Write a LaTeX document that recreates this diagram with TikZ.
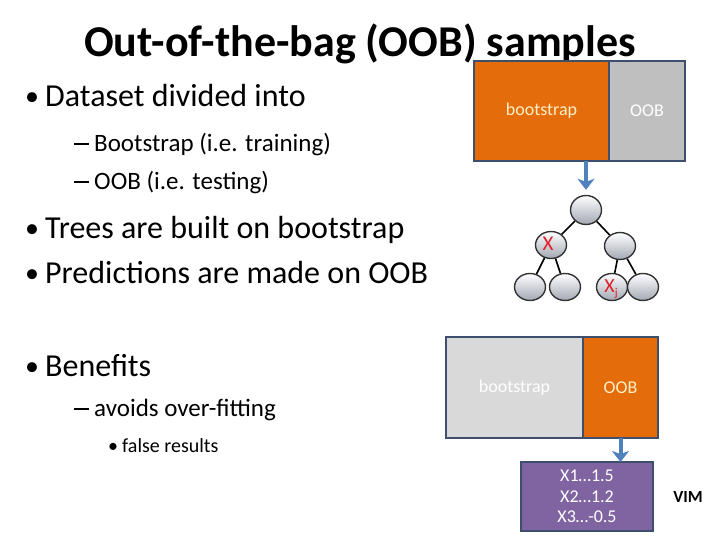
\documentclass[tikz,border=0pt]{standalone}
\usepackage{fontspec}
\setmainfont{Carlito}
\usetikzlibrary{arrows.meta,positioning,shapes.geometric}
\definecolor{oobOrange}{HTML}{E46C0A}
\definecolor{oobGrayA}{HTML}{BFBFBF}
\definecolor{oobGrayB}{HTML}{D9D9D9}
\definecolor{boxEdge}{HTML}{3E4F6D}
\definecolor{vimPurple}{HTML}{8064A2}
\definecolor{flowBlue}{HTML}{4F81BD}
\definecolor{creamText}{HTML}{FFF0C8}
\definecolor{splitRed}{HTML}{E0202A}
\definecolor{leafShade}{HTML}{A3A8B4}
\newcommand{\lvldash}{\makebox[20pt][l]{\rule[6.5pt]{15pt}{2pt}}}
\newcommand{\lvlbul}{\makebox[20pt][l]{\raisebox{1pt}{\fontsize{28}{28}\selectfont\textbullet}}}
\begin{document}
\begin{tikzpicture}[x=1pt,y=-1pt,
    lvlone/.style={anchor=base west, inner sep=0pt, font=\fontsize{32}{38}\selectfont},
    lvltwo/.style={anchor=base west, inner sep=0pt, font=\fontsize{25}{30}\selectfont},
    lvlthree/.style={anchor=base west, inner sep=0pt, font=\fontsize{20}{24}\selectfont},
    part/.style={draw=boxEdge, line width=2.5pt, minimum height=100pt, inner sep=0pt, outer sep=0pt, font=\fontsize{18}{20}\selectfont},
    treenode/.style={ellipse, draw=black!80, line width=1.4pt, top color=white, bottom color=leafShade, minimum width=31pt, minimum height=27pt, inner sep=0pt},
    treeedge/.style={line width=1.6pt},
    flow/.style={-{Stealth[width=17pt,length=11pt,inset=3pt]}, line width=4pt, draw=flowBlue}]
    \useasboundingbox (0,0) rectangle (720,540);

    % title and bullets
    \node[font=\bfseries\fontsize{44}{48}\selectfont] (title) at (360,44) {Out-of-the-bag (OOB) samples};
    \node[lvlone] (bulA) at (25,107) {\lvlbul Dataset divided into};
    \node[lvltwo] (subA) at (74,152) {\lvldash Bootstrap (i.e. training)};
    \node[lvltwo] (subB) at (74,190) {\lvldash OOB (i.e. testing)};
    \node[lvlone] (bulB) at (25,238) {\lvlbul Trees are built on bootstrap};
    \node[lvlone] (bulC) at (25,283) {\lvlbul Predictions are made on OOB};
    \node[lvlone] (bulD) at (25,376) {\lvlbul Benefits};
    \node[lvltwo] (subC) at (74,416) {\lvldash avoids over-fitting};
    \node[lvlthree] (subsub) at (108,452) {\makebox[14pt][l]{\textbullet}false results};

    % data split used for training
    \node[part, fill=oobOrange, text=creamText, minimum width=135pt] (topboot) at (541.5,111) {bootstrap};
    \node[part, fill=oobGrayA, text=white, minimum width=76pt, right=0pt of topboot] (topoob) {OOB};

    % tree
    \node[treenode, minimum height=29pt] (root) at (586,210) {};
    \node[treenode] (lchild) at (551,245) {};
    \node[treenode] (rchild) at (620,246) {};
    \node[treenode] (leafa) at (530,287) {};
    \node[treenode] (leafb) at (565,287) {};
    \node[treenode] (leafc) at (612,287) {};
    \node[treenode] (leafd) at (643,287) {};
    \draw[treeedge] (root) -- (lchild);
    \draw[treeedge] (root) -- (rchild);
    \draw[treeedge] (lchild) -- (leafa);
    \draw[treeedge] (lchild) -- (leafb);
    \draw[treeedge] (rchild) -- (leafc);
    \draw[treeedge] (rchild) -- (leafd);
    \node[text=splitRed, font=\fontsize{21}{22}\selectfont] (xlab) at (548,244) {X};
    \node[text=splitRed, font=\fontsize{20}{22}\selectfont] (xjlab) at (611,289) {X\raisebox{-4pt}{\fontsize{12}{12}\selectfont j}};
    \draw[flow] (topboot.south -| root) -- ([yshift=5pt]root.north);

    % data split used for importance
    \node[part, fill=oobGrayB, text=white, minimum width=137pt, minimum height=101pt] (botboot) at (514.5,387.5) {bootstrap};
    \node[part, fill=oobOrange, text=creamText, minimum width=75pt, minimum height=101pt, right=0pt of botboot] (botoob) {OOB};

    \node[part, fill=vimPurple, text=white, minimum width=132pt, minimum height=69pt, font=\fontsize{18}{20.5}\selectfont, align=center] (vimbox) at (587,496.5) {X1…1.5\\X2…1.2\\X3…-0.5};
    \draw[flow] (botoob.south) -- (botoob.south |- vimbox.north);
    \node[font=\bfseries\fontsize{17}{19}\selectfont] (vimlab) at (688,497) {VIM};
\end{tikzpicture}
\end{document}
